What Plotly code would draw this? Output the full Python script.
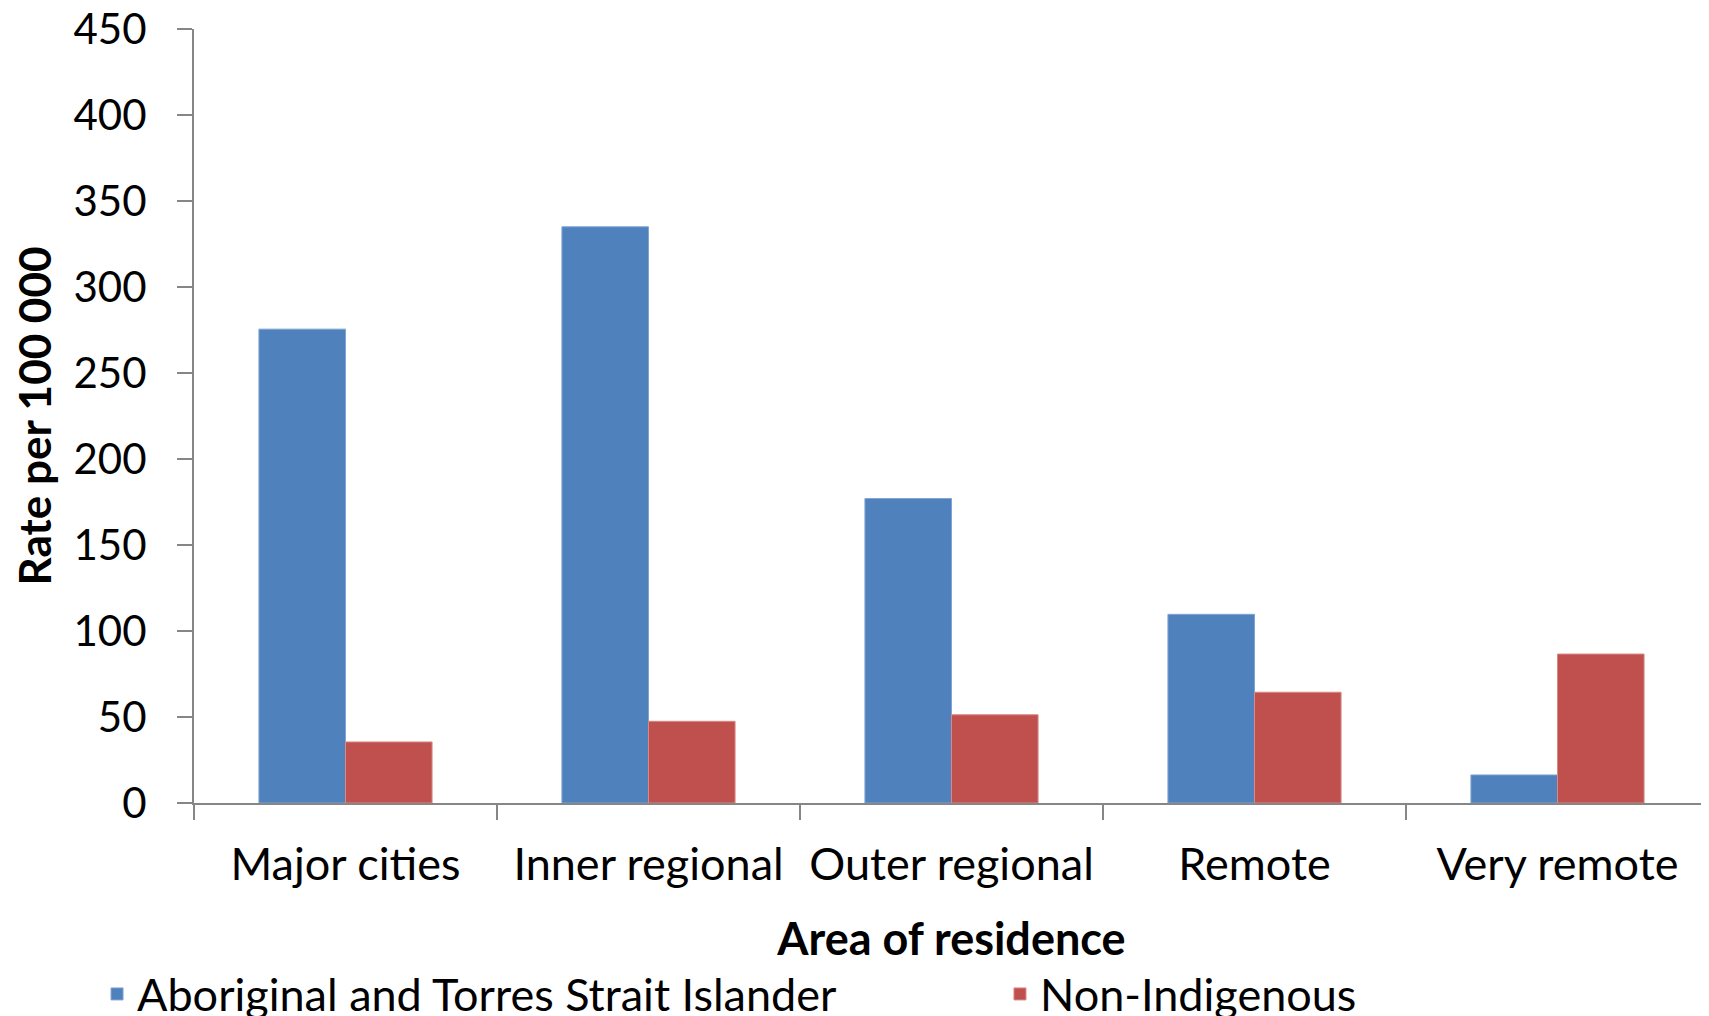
import plotly.graph_objects as go

# Data
areas = ["Major cities", "Inner regional", "Outer regional", "Remote", "Very remote"]
indigenous_rate = [275.5, 335, 177, 109.7, 16.3]
non_indigenous_rate = [35.5, 47.5, 51.3, 64.4, 86.6]

BLUE = "#4F81BD"
RED = "#C0504D"
AXIS_GREY = "#868686"
FONT = "Lato, Carlito, Calibri, sans-serif"

fig = go.Figure()
fig.add_trace(go.Bar(
    x=areas, y=indigenous_rate,
    name="Aboriginal and Torres Strait Islander",
    marker=dict(color=BLUE, line=dict(color="#7FA3D4", width=1)),
    legend="legend",
))
fig.add_trace(go.Bar(
    x=areas, y=non_indigenous_rate,
    name="Non-Indigenous",
    marker=dict(color=RED, line=dict(color="#D98886", width=1)),
    legend="legend2",
))

legend_style = dict(
    orientation="h",
    y=-0.247, yanchor="middle",
    xanchor="left",
    font=dict(size=45),
    itemwidth=30,
    bgcolor="rgba(0,0,0,0)",
)

fig.update_layout(
    width=1709, height=1016,
    barmode="group",
    bargap=0.4286,
    bargroupgap=0,
    plot_bgcolor="white",
    paper_bgcolor="white",
    font=dict(family=FONT, size=45, color="black"),
    margin=dict(l=186, r=8, t=21, b=221, autoexpand=False),
    showlegend=True,
    legend=dict(x=-0.064, **legend_style),
    legend2=dict(x=0.532, **legend_style),
)

fig.update_xaxes(
    tickson="boundaries",
    ticks="outside", ticklen=15, tickwidth=2, tickcolor=AXIS_GREY,
    showline=True, linecolor=AXIS_GREY, linewidth=2,
    showgrid=False,
    ticklabelstandoff=21,
    tickfont=dict(size=45),
    title=dict(text="<b>Area of residence</b>", font=dict(size=45), standoff=34),
    automargin=False,
)
fig.update_yaxes(
    range=[0, 450], dtick=50,
    ticks="outside", ticklen=15, tickwidth=2, tickcolor=AXIS_GREY,
    showline=True, linecolor=AXIS_GREY, linewidth=2,
    showgrid=False, zeroline=False,
    ticklabelstandoff=22,
    ticklabeloverflow="allow",
    tickfont=dict(size=42),
    title=dict(text="<b>Rate per 100 000</b>", font=dict(size=44), standoff=30),
    automargin=False,
)

fig.write_html("out.html")
